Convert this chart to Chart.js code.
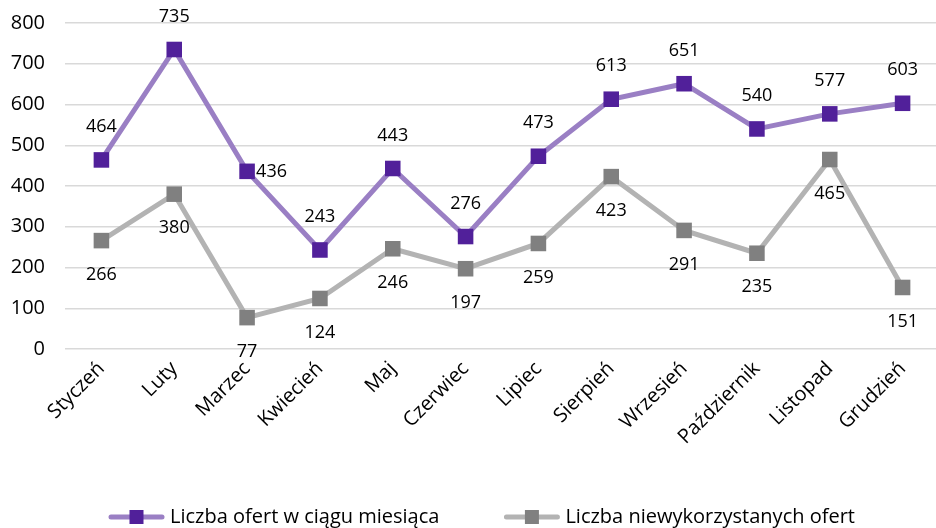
<!DOCTYPE html>
<html><head><meta charset="utf-8">
<script src="https://cdn.jsdelivr.net/npm/chart.js@4/dist/chart.umd.min.js"></script>
<style>
html,body{margin:0;padding:0;background:#fff;overflow:hidden;width:936px;height:528px;}
#wrap{position:absolute;left:0;top:0;width:950px;height:528px;}
</style></head><body>
<div id="wrap"><canvas id="c" width="950" height="528"></canvas></div>
<script>
const categories = ['Styczeń','Luty','Marzec','Kwiecień','Maj','Czerwiec','Lipiec','Sierpień','Wrzesień','Październik','Listopad','Grudzień'];
const offersPerMonth = [464,735,436,243,443,276,473,613,651,540,577,603];
const unusedOffers = [266,380,77,124,246,197,259,423,291,235,465,151];
const seriesNames = ['Liczba ofert w ciągu miesiąca','Liczba niewykorzystanych ofert'];
const yTicks = [0,100,200,300,400,500,600,700,800];
const offersLabelPos = ['top','top','right','top','top','top','top','top','top','top','top','top'];
const unusedLabelPos = ['bottom','bottom','bottom','bottom','bottom','bottom','bottom','bottom','bottom','bottom','bottom','bottom'];

const FONT = "'Open Sans', sans-serif";

const dataLabelPlugin = {
  id: 'dataLabels',
  afterDatasetsDraw(chart) {
    const ctx = chart.ctx;
    ctx.save();
    ctx.font = "18px " + FONT;
    ctx.fillStyle = '#000';
    chart.data.datasets.forEach((ds, i) => {
      const meta = chart.getDatasetMeta(i);
      meta.data.forEach((pt, j) => {
        const pos = ds.labelPos[j];
        let x = pt.x, y = pt.y;
        if (pos === 'top') { ctx.textAlign = 'center'; ctx.textBaseline = 'middle'; y -= 33; }
        else if (pos === 'bottom') { ctx.textAlign = 'center'; ctx.textBaseline = 'middle'; y += 34; }
        else if (pos === 'right') { ctx.textAlign = 'left'; ctx.textBaseline = 'middle'; x += 9; y += 1; }
        ctx.fillText(String(ds.data[j]), x, y);
      });
    });
    ctx.restore();
  }
};

const legendPlugin = {
  id: 'customLegend',
  afterDraw(chart) {
    const ctx = chart.ctx;
    ctx.save();
    ctx.font = "20px " + FONT;
    ctx.textBaseline = 'middle';
    const y = 517;
    const lineW = 55, gap = 6, between = 65;
    const widths = chart.data.datasets.map(ds => lineW + gap + ctx.measureText(ds.label).width);
    let x = 109;
    chart.data.datasets.forEach((ds, i) => {
      ctx.strokeStyle = ds.borderColor;
      ctx.lineWidth = 5;
      ctx.lineCap = 'round';
      ctx.beginPath(); ctx.moveTo(x+2, y); ctx.lineTo(x+lineW-2, y); ctx.stroke();
      ctx.fillStyle = ds.pointBackgroundColor;
      ctx.fillRect(x + lineW/2 - 7, y - 7, 14, 14);
      ctx.fillStyle = '#000';
      ctx.textAlign = 'left';
      ctx.fillText(ds.label, x + lineW + gap, y);
      x += widths[i] + between;
    });
    ctx.restore();
  }
};

new Chart(document.getElementById('c'), {
  type: 'line',
  data: {
    labels: categories,
    datasets: [
      { label: seriesNames[0], data: offersPerMonth, labelPos: offersLabelPos,
        borderColor: '#9a7fc4', borderWidth: 5, pointStyle: 'rect', pointRadius: 11,
        pointBackgroundColor: '#51209a', pointBorderColor: '#51209a', pointBorderWidth: 0,
        tension: 0 },
      { label: seriesNames[1], data: unusedOffers, labelPos: unusedLabelPos,
        borderColor: '#b3b3b3', borderWidth: 5, pointStyle: 'rect', pointRadius: 11,
        pointBackgroundColor: '#808080', pointBorderColor: '#808080', pointBorderWidth: 0,
        tension: 0 }
    ]
  },
  options: {
    responsive: false,
    animation: false,
    layout: { padding: { left: 8, right: 4, top: 23, bottom: 79 } },
    plugins: { legend: { display: false }, tooltip: { enabled: false } },
    scales: {
      x: {
        offset: true,
        grid: { display: false, drawTicks: false, offset: true },
        border: { display: false },
        ticks: { color: '#000', font: { family: FONT, size: 20 }, maxRotation: 45, minRotation: 45, padding: 8 },
        afterFit(s) { s.height = 100; s.paddingLeft = 0; s.paddingRight = 0; }
      },
      y: {
        min: 0, max: 800,
        afterBuildTicks(s) { s.ticks = yTicks.map(v => ({ value: v })); },
        grid: { color: '#d9d9d9', lineWidth: 1.5, drawTicks: false },
        border: { display: false },
        ticks: { color: '#000', font: { family: FONT, size: 20 }, padding: 20 },
        afterFit(s) { s.width = 57; s.paddingTop = 0; s.paddingBottom = 0; }
      }
    }
  },
  plugins: [dataLabelPlugin, legendPlugin]
});
</script>
</body></html>
